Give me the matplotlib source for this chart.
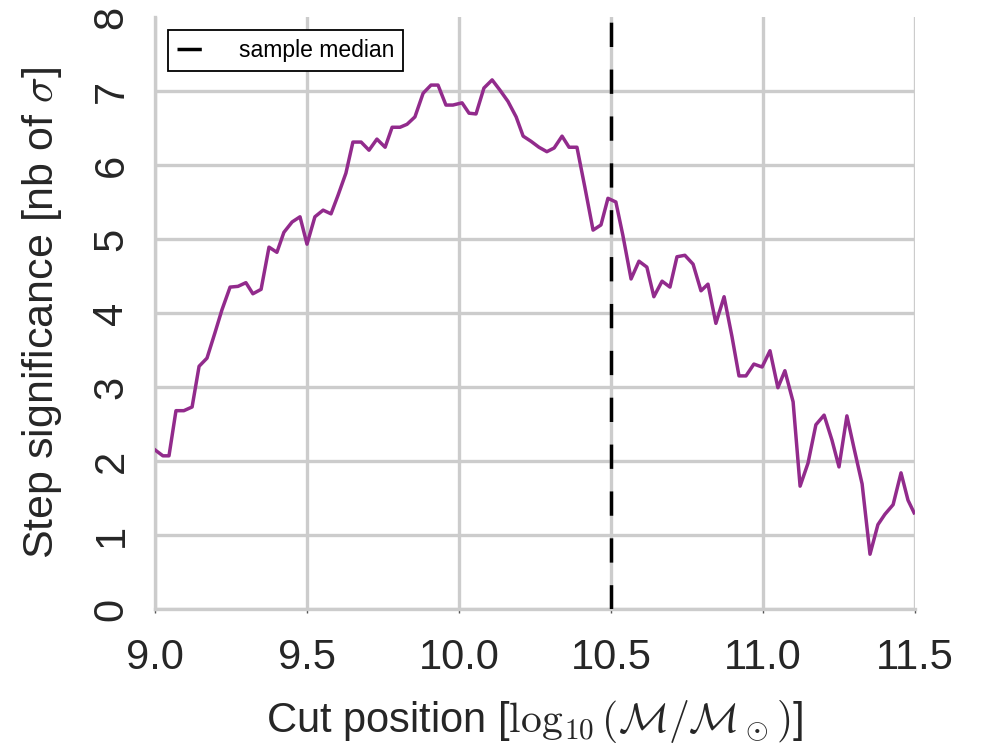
import matplotlib
matplotlib.use("Agg")
import matplotlib.pyplot as plt

# cut position [log10(M/Msun)] and step significance [nb of sigma]
cut_pos = [9.000, 9.026, 9.046, 9.069, 9.095, 9.122, 9.145, 9.171, 9.197, 9.220,
           9.247, 9.273, 9.299, 9.322, 9.349, 9.375, 9.401, 9.424, 9.451, 9.477,
           9.500, 9.526, 9.553, 9.579, 9.602, 9.628, 9.651, 9.678, 9.704, 9.730,
           9.757, 9.780, 9.806, 9.829, 9.855, 9.882, 9.908, 9.931, 9.957, 9.980,
           10.010, 10.033, 10.056, 10.082, 10.109, 10.135, 10.161, 10.188, 10.211, 10.237,
           10.263, 10.289, 10.313, 10.339, 10.362, 10.388, 10.414, 10.441, 10.467, 10.490,
           10.516, 10.539, 10.566, 10.592, 10.618, 10.641, 10.668, 10.694, 10.717, 10.743,
           10.770, 10.796, 10.819, 10.845, 10.872, 10.898, 10.921, 10.944, 10.970, 10.997,
           11.023, 11.049, 11.072, 11.099, 11.122, 11.148, 11.174, 11.201, 11.227, 11.250,
           11.276, 11.299, 11.326, 11.352, 11.378, 11.401, 11.428, 11.454, 11.477, 11.497]
significance = [2.15, 2.07, 2.07, 2.68, 2.68, 2.73, 3.28, 3.39, 3.73, 4.04,
                4.35, 4.36, 4.41, 4.26, 4.32, 4.89, 4.82, 5.09, 5.23, 5.30,
                4.93, 5.30, 5.39, 5.34, 5.59, 5.89, 6.31, 6.31, 6.20, 6.35,
                6.24, 6.51, 6.51, 6.55, 6.65, 6.97, 7.08, 7.08, 6.81, 6.81,
                6.84, 6.70, 6.69, 7.04, 7.15, 7.01, 6.86, 6.65, 6.39, 6.32,
                6.24, 6.18, 6.23, 6.39, 6.24, 6.24, 5.70, 5.12, 5.19, 5.55,
                5.50, 5.05, 4.46, 4.70, 4.62, 4.22, 4.43, 4.35, 4.76, 4.78,
                4.66, 4.30, 4.39, 3.86, 4.22, 3.68, 3.15, 3.15, 3.31, 3.27,
                3.49, 2.99, 3.22, 2.80, 1.66, 1.97, 2.49, 2.62, 2.28, 1.92,
                2.61, 2.18, 1.69, 0.74, 1.14, 1.28, 1.41, 1.84, 1.47, 1.30]
sample_median = 10.5
x_ticks = [9.0, 9.5, 10.0, 10.5, 11.0, 11.5]
y_ticks = [0, 1, 2, 3, 4, 5, 6, 7, 8]

plt.rcParams['font.family'] = ['Liberation Sans', 'DejaVu Sans']
plt.rcParams['mathtext.fontset'] = 'cm'

text_col = '#262626'
grid_col = '#cccccc'

fig = plt.figure(figsize=(9.81, 7.44), dpi=100)
ax = fig.add_axes([155/981, 1 - 609/744, 760/981, 592/744])

ax.plot(cut_pos, significance, color='#922b8c', lw=2.5, zorder=3)
ax.axvline(sample_median, color='black', lw=2.5, dashes=(7, 6.5),
           label='sample median', zorder=4)

ax.set_xlim(9.0, 11.5)
ax.set_ylim(0, 8)
ax.set_xticks(x_ticks)
ax.set_xticklabels([f'{v:.1f}' for v in x_ticks])
ax.set_yticks(y_ticks)

ax.grid(True, color=grid_col, lw=2.4, zorder=0)
ax.set_axisbelow(True)
ax.yaxis.get_gridlines()[-1].set_visible(False)
for side in ['top', 'right']:
    ax.spines[side].set_visible(False)
for side in ['left', 'bottom']:
    ax.spines[side].set_color(grid_col)
    ax.spines[side].set_linewidth(2.4)

ax.tick_params(axis='x', labelsize=30, colors=text_col, length=3, width=1, pad=18)
ax.tick_params(axis='x', color='#555555')
ax.tick_params(axis='y', labelsize=30, colors=text_col, length=0, pad=17,
               labelrotation=90)
for lab in ax.get_yticklabels():
    lab.set_verticalalignment('center')

ax.set_xlabel(r'Cut position [$\log_{10}(\mathcal{M}/\mathcal{M}_\odot)$]',
              fontsize=30, color=text_col, labelpad=14)
ax.set_ylabel(r'Step significance [nb of $\sigma$]', fontsize=31, color=text_col,
              labelpad=20)

leg = ax.legend(loc='upper left', fontsize=16.5, handlelength=1.9, fancybox=False,
                borderaxespad=0.55, framealpha=1)
leg.get_frame().set_edgecolor('black')
leg.get_frame().set_linewidth(1.3)

fig.savefig('out.png', dpi=100, facecolor='white')
